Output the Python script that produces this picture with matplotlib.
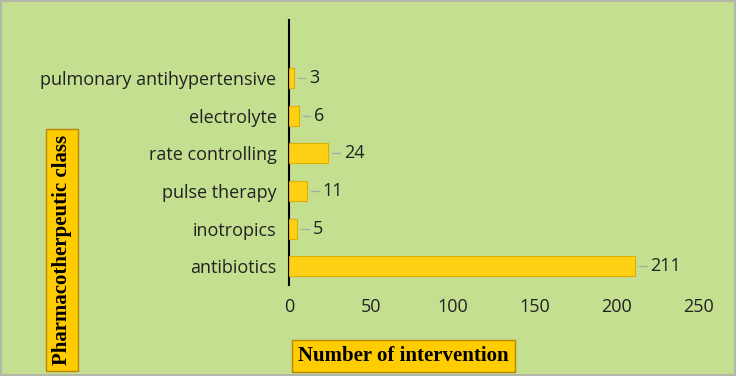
import matplotlib.pyplot as plt

# Intervention counts by pharmacotherapeutic class
classes = ["antibiotics", "inotropics", "pulse therapy", "rate controlling",
           "electrolyte", "pulmonary antihypertensive"]
counts = [211, 5, 11, 24, 6, 3]

bg = "#C3DF8F"
bar_color = "#FFD014"

fig = plt.figure(figsize=(7.36, 3.76), dpi=100, facecolor=bg)
ax = fig.add_axes([0.3927, 0.242, 0.557, 0.705])
ax.set_facecolor(bg)

ypos = list(range(len(classes)))
ax.barh(ypos, counts, height=0.53, color=bar_color, edgecolor="#E0AE00",
        linewidth=0.8, zorder=3)

# data labels with short leader lines
for y, v in zip(ypos, counts):
    ax.plot([v + 2.5, v + 7], [y, y], color="#A8A8A8", lw=0.9, zorder=2)
    ax.text(v + 9.5, y, str(v), va="center", ha="left", fontsize=13,
            family="Open Sans", color="#222222")

ax.set_xlim(0, 250)
ax.set_ylim(-0.5, 6.54)
ax.set_xticks([0, 50, 100, 150, 200, 250])
ax.set_yticks(ypos)
ax.set_yticklabels(classes)
ax.tick_params(axis="both", length=0, labelsize=13, colors="#222222")
ax.tick_params(axis="y", pad=9)
ax.tick_params(axis="x", pad=9)
for lbl in ax.get_xticklabels() + ax.get_yticklabels():
    lbl.set_family("Open Sans")
for s in ["top", "right", "bottom"]:
    ax.spines[s].set_visible(False)
ax.spines["left"].set_color("black")
ax.spines["left"].set_linewidth(1.5)

box = dict(boxstyle="square,pad=0.3", facecolor="#FFCC00", edgecolor="#B8860B", lw=1)
fig.text(0.548, 0.053, "Number of intervention", ha="center", va="center",
         fontsize=15, fontweight="bold", family="Liberation Serif", bbox=box)
fig.text(0.084, 0.335, "Pharmacotherpeutic class", ha="center", va="center",
         rotation=90, fontsize=15, fontweight="bold", family="Liberation Serif", bbox=box)

# figure border
fig.patches.append(plt.Rectangle((0.002, 0.003), 0.996, 0.994, transform=fig.transFigure,
                                 fill=False, edgecolor="#B0B0B0", lw=1.2))

fig.savefig("out.png", dpi=100, facecolor=bg)
